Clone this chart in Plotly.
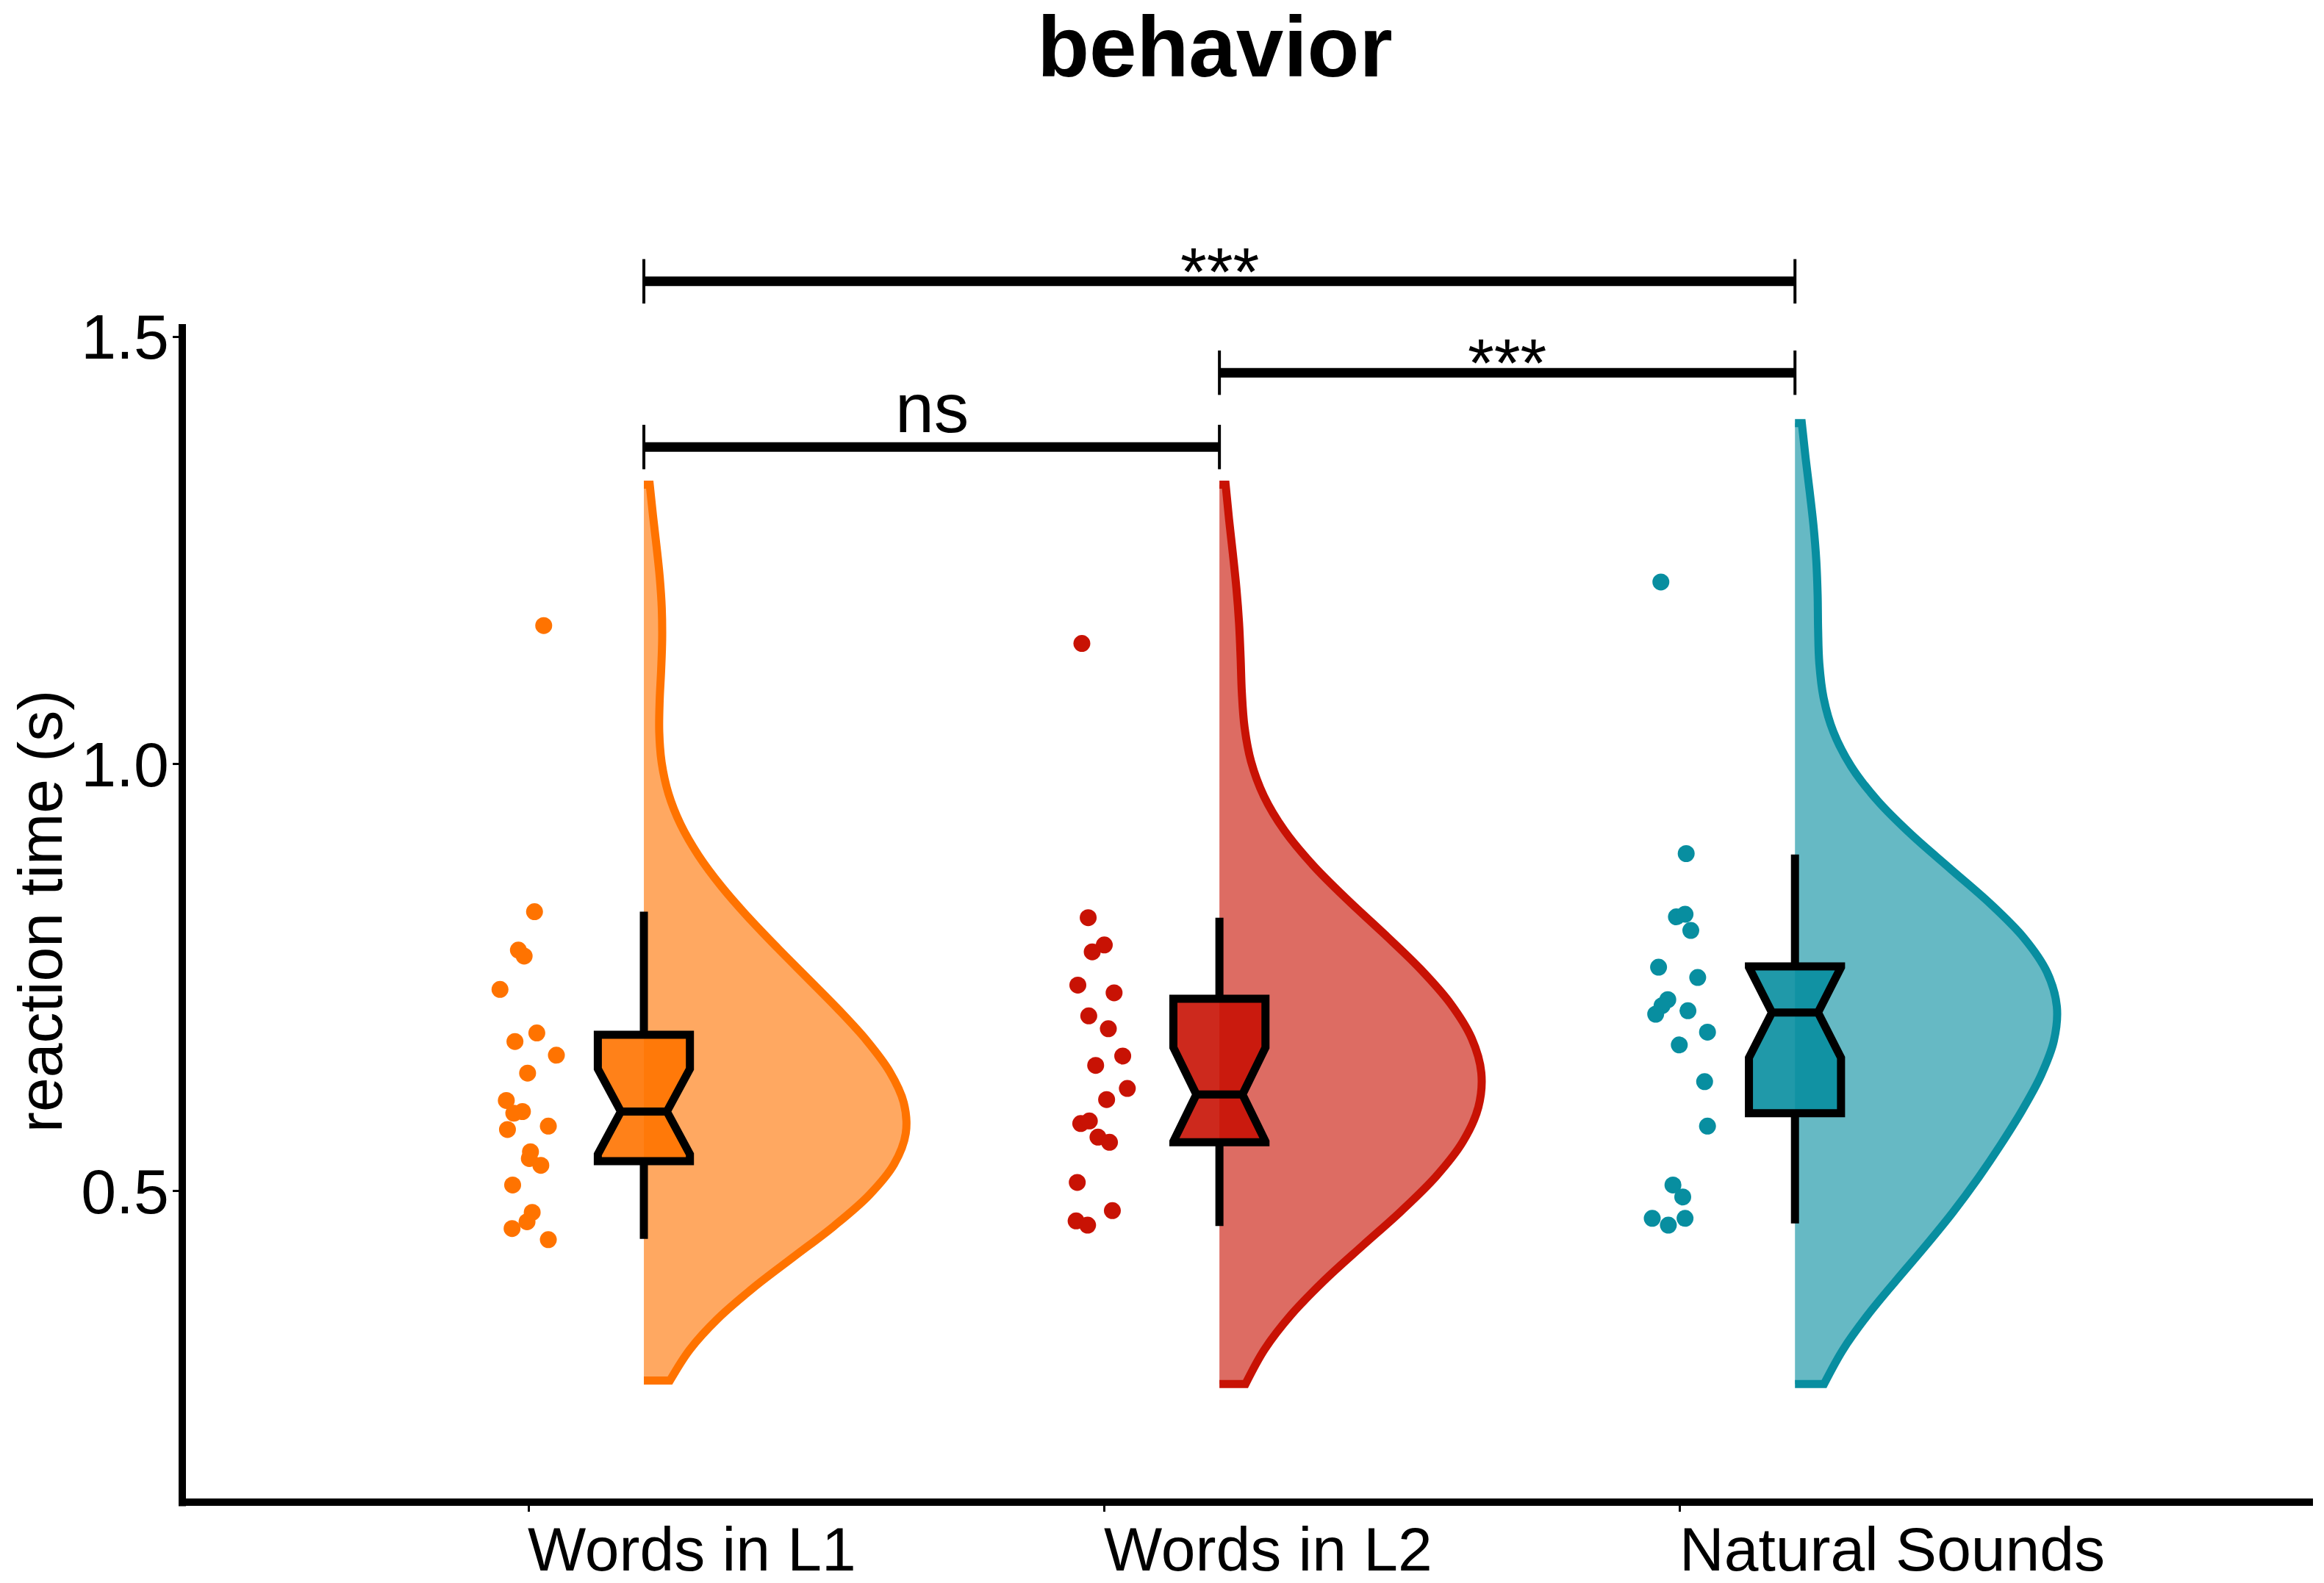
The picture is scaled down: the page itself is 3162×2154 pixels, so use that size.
import plotly.graph_objects as go

# ---------------- data ----------------
categories = ["Words in L1", "Words in L2", "Natural Sounds"]

rt_l1 = [1.162, 0.827, 0.782, 0.775, 0.736, 0.685, 0.675, 0.659, 0.638, 0.606, 0.593,
         0.591, 0.572, 0.576, 0.546, 0.538, 0.530, 0.507, 0.475, 0.464, 0.456, 0.443]
jit_l1 = [0.026, 0.010, -0.018, -0.008, -0.050, 0.014, -0.024, 0.048, -0.002, -0.039, -0.011,
          -0.026, -0.037, 0.034, 0.003, 0.001, 0.021, -0.028, 0.006, -0.003, -0.029, 0.034]

rt_l2 = [1.141, 0.820, 0.788, 0.780, 0.741, 0.732, 0.705, 0.690, 0.658, 0.647,
         0.620, 0.607, 0.579, 0.582, 0.563, 0.557, 0.510, 0.477, 0.465, 0.460]
jit_l2 = [-0.039, -0.028, 0.000, -0.021, -0.046, 0.017, -0.027, 0.007, 0.032, -0.015,
          0.040, 0.004, -0.041, -0.026, -0.011, 0.009, -0.047, 0.014, -0.049, -0.029]

rt_ns = [1.213, 0.895, 0.821, 0.824, 0.805, 0.762, 0.750, 0.724, 0.717, 0.707,
         0.711, 0.686, 0.671, 0.628, 0.576, 0.507, 0.493, 0.468, 0.460, 0.468]
jit_ns = [-0.033, 0.011, -0.006, 0.009, 0.019, -0.037, 0.031, -0.021, -0.031, -0.042,
          0.014, 0.048, -0.001, 0.043, 0.048, -0.012, 0.005, -0.048, -0.020, 0.009]

# notched box statistics
box_low = [0.444, 0.459, 0.462]
box_q1 = [0.535, 0.557, 0.591]
box_median = [0.593, 0.613, 0.709]
box_q3 = [0.683, 0.725, 0.763]
box_high = [0.827, 0.820, 0.894]
box_notch = [0.050, 0.055, 0.053]

# density bandwidths of the half violins (span = data range +- 3 bw, kernel = adjust * bw)
violin_bw = [0.055, 0.062, 0.062]
violin_adjust = 2.0

# significance comparisons
comp_from = [0, 1, 0]
comp_to = [1, 2, 2]
comp_level = [1.371, 1.458, 1.565]
comp_label = ["ns", "***", "***"]

y_ticks = [0.5, 1.0, 1.5]

# ---------------- styling ----------------
line_cols = ["rgb(255,115,0)", "rgb(200,18,4)", "rgb(8,142,160)"]
fill_cols = ["rgba(255,115,0,0.62)", "rgba(200,18,4,0.62)", "rgba(8,142,160,0.62)"]
box_cols = ["rgba(255,115,0,0.9)", "rgba(200,18,4,0.9)", "rgba(8,142,160,0.9)"]
FONT = "Liberation Sans, Arial, Helvetica, sans-serif"
OFF = 0.2          # half-violin / box offset from the category position
W, H = 3162, 2154
YMIN, YMAX = 0.14, 1.65
YAXIS_TOP = 1.515
XMIN, XMAX = 0.398, 4.10

groups = [(rt_l1, jit_l1), (rt_l2, jit_l2), (rt_ns, jit_ns)]

fig = go.Figure()

for i, (vals, jit) in enumerate(groups):
    pos = i + 1
    bw = violin_bw[i]
    fig.add_trace(go.Violin(
        x0=pos + OFF, y=vals, side="positive", bandwidth=bw * violin_adjust,
        spanmode="manual", span=[min(vals) - 3 * bw, max(vals) + 3 * bw],
        scalemode="width", width=0.91, points=False,
        box=dict(visible=False), meanline=dict(visible=False),
        line=dict(color=line_cols[i], width=11), fillcolor=fill_cols[i],
        showlegend=False, hoverinfo="skip"))

for i in range(3):
    pos = i + 1
    fig.add_trace(go.Box(
        x=[pos + OFF], q1=[box_q1[i]], median=[box_median[i]], q3=[box_q3[i]],
        lowerfence=[box_low[i]], upperfence=[box_high[i]], notchspan=[box_notch[i]],
        notched=True, notchwidth=0.25, width=0.16, whiskerwidth=0,
        boxpoints=False, fillcolor=box_cols[i],
        line=dict(color="black", width=11), showlegend=False, hoverinfo="skip"))

for i, (vals, jit) in enumerate(groups):
    pos = i + 1
    fig.add_trace(go.Scatter(
        x=[pos + j for j in jit], y=vals, mode="markers",
        marker=dict(color=line_cols[i], size=23, line=dict(width=0)),
        showlegend=False, hoverinfo="skip"))

TICK_HALF = 0.026
for a, b, lvl, lab in zip(comp_from, comp_to, comp_level, comp_label):
    xa, xb = a + 1 + OFF, b + 1 + OFF
    fig.add_trace(go.Scatter(x=[xa, xb], y=[lvl, lvl], mode="lines",
                             line=dict(color="black", width=13),
                             showlegend=False, hoverinfo="skip"))
    fig.add_trace(go.Scatter(x=[xa, xa, None, xb, xb],
                             y=[lvl - TICK_HALF, lvl + TICK_HALF, None,
                                lvl - TICK_HALF, lvl + TICK_HALF],
                             mode="lines", line=dict(color="black", width=4),
                             showlegend=False, hoverinfo="skip"))
    is_ns = lab == "ns"
    fig.add_annotation(x=(xa + xb) / 2, y=lvl, xref="x", yref="y",
                       text=lab, showarrow=False, yanchor="bottom",
                       yshift=-2 if is_ns else -40,
                       font=dict(family=FONT, size=95 if is_ns else 92, color="black"))

# x category labels (left-aligned at the ticks, as in the reference)
for i, c in enumerate(categories):
    fig.add_annotation(x=i + 1, y=0, xref="x", yref="paper", text=c,
                       showarrow=False, xanchor="left", yanchor="top", yshift=-20,
                       xshift=-3,
                       font=dict(family=FONT, size=84, color="black"))

# y axis title centred on the axis line
fig.add_annotation(x=-0.0666, y=((YMIN + YAXIS_TOP) / 2 - YMIN) / (YMAX - YMIN),
                   xref="paper", yref="paper", text="reaction time (s)", textangle=-90,
                   showarrow=False, xanchor="center", yanchor="middle",
                   font=dict(family=FONT, size=84, color="black"))

# y axis line (stops at the top of the data panel)
fig.add_shape(type="line", xref="paper", yref="paper", x0=0, x1=0,
              y0=-0.006, y1=(YAXIS_TOP - YMIN) / (YMAX - YMIN),
              line=dict(color="black", width=10))

fig.update_layout(
    width=W, height=H,
    margin=dict(l=240, r=23, t=276, b=123, pad=0),
    paper_bgcolor="white", plot_bgcolor="white",
    violinmode="overlay", boxmode="overlay",
    title=dict(text="<b>behavior</b>", x=0.5202, xanchor="center",
               y=0.993, yanchor="top", yref="container",
               font=dict(family=FONT, size=116, color="black")),
    xaxis=dict(range=[XMIN, XMAX], tickvals=[1, 2, 3], showticklabels=False,
               ticks="outside", ticklen=8, tickwidth=3, tickcolor="black",
               showline=True, linecolor="black", linewidth=10,
               showgrid=False, zeroline=False),
    yaxis=dict(range=[YMIN, YMAX], tickvals=y_ticks, tickformat=".1f",
               ticks="outside", ticklen=12, tickwidth=3, tickcolor="black",
               ticklabelstandoff=-12,
               showline=False, showgrid=False, zeroline=False,
               tickfont=dict(family=FONT, size=86, color="black")),
)

fig.write_html("out.html")
